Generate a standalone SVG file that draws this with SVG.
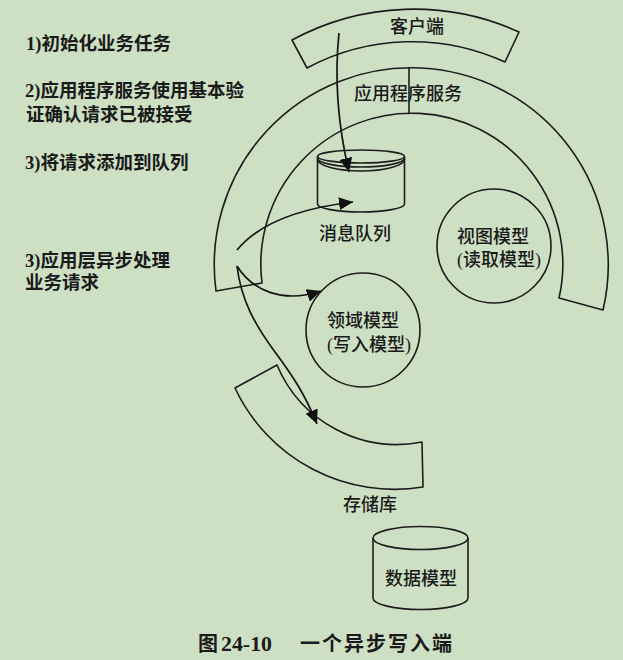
<svg xmlns="http://www.w3.org/2000/svg" width="623" height="660" viewBox="0 0 623 660">
<style>
.bg{fill:#cee0c4}
.ln{fill:none;stroke:#1c1c1c;stroke-width:1.6;stroke-linejoin:round}
.con{fill:none;stroke:#141414;stroke-width:1.7}
.note{font-family:"Liberation Serif","Noto Sans CJK SC",serif;font-size:18.5px;font-weight:700;fill:#1a1a1a}
.lbl{font-family:"Liberation Serif","Noto Sans CJK SC",serif;font-size:18px;font-weight:500;fill:#1a1a1a;text-anchor:middle}
.cap{font-family:"Liberation Serif","Noto Sans CJK SC",serif;font-size:20px;font-weight:700;fill:#1a1a1a}
</style>
<defs>
<marker id="ah" markerUnits="userSpaceOnUse" markerWidth="15" markerHeight="13" refX="14" refY="6.5" orient="auto">
<path d="M0,0 L14,6.5 L0,13 z" fill="#111"/>
</marker>
</defs>
<rect class="bg" x="0" y="0" width="623" height="660"/>

<g id="notes">
<text class="note" x="26" y="50">1)初始化业务任务</text>
<text class="note" x="25" y="97">2)应用程序服务使用基本验</text>
<text class="note" x="26" y="121">证确认请求已被接受</text>
<text class="note" x="25" y="169">3)将请求添加到队列</text>
<text class="note" x="25" y="267">3)应用层异步处理</text>
<text class="note" x="25" y="289">业务请求</text>
</g>

<g id="client">
<path class="ln" d="M292,40 A255,255 0 0 1 519,32 L505,62 A223,223 0 0 0 307,68 Z"/>
<text class="lbl" x="417" y="33">客户端</text>
</g>

<g id="app-service">
<path class="ln" d="M216,291 A197,197 0 1 1 603,310 L559,298 A151,151 0 1 0 262,283 Z"/>
<line class="ln" x1="409" y1="67" x2="409" y2="113"/>
<text class="lbl" x="408" y="100">应用程序服务</text>
</g>

<g id="message-queue">
<path class="ln" d="M317.5,156.5 L317.5,204 A43.5,8 0 0 0 404.5,204 L404.5,156.5"/>
<ellipse class="ln" cx="361" cy="156.5" rx="43.5" ry="6.5"/>
<path class="ln" d="M317.5,158 A43.5,9 0 0 0 404.5,158"/>
<path class="ln" d="M317.5,159 A43.5,12 0 0 0 404.5,159"/>
<text class="lbl" x="355" y="240">消息队列</text>
</g>

<g id="view-model">
<circle class="ln" cx="494" cy="246" r="57"/>
<text class="lbl" x="493" y="243">视图模型</text>
<text class="lbl" x="499" y="266">(读取模型)</text>
</g>

<g id="domain-model">
<circle class="ln" cx="363" cy="330" r="57"/>
<text class="lbl" x="363" y="327">领域模型</text>
<text class="lbl" x="369" y="351">(写入模型)</text>
</g>

<g id="repository">
<path class="ln" d="M277,365 A130,130 0 0 0 422,442 L423,487 A176,176 0 0 1 235,388 Z"/>
<text class="lbl" x="370" y="511">存储库</text>
</g>

<g id="data-model">
<path class="ln" d="M373,538 L373,598 A47.5,11.5 0 0 0 468,598 L468,538"/>
<ellipse class="ln" cx="420.5" cy="538" rx="47.5" ry="11.5"/>
<text class="lbl" x="421" y="585">数据模型</text>
</g>

<g id="connectors">
<path class="con" marker-end="url(#ah)" d="M339,33 Q332,100 349,172"/>
<path class="con" marker-end="url(#ah)" d="M237,250 Q268,212 353,202"/>
<path class="con" marker-end="url(#ah)" d="M237,266 C252,290 282,304 321,291"/>
<path class="con" marker-end="url(#ah)" d="M237,266 C241,300 255,325 275,352 S305,395 317,424"/>
</g>

<g id="caption">
<text class="cap" x="198" y="651">图</text>
<text class="cap" x="221" y="651" textLength="51" lengthAdjust="spacingAndGlyphs">24-10</text>
<text class="cap" x="300" y="651" font-size="21" textLength="152" lengthAdjust="spacing">一个异步写入端</text>
</g>
</svg>
